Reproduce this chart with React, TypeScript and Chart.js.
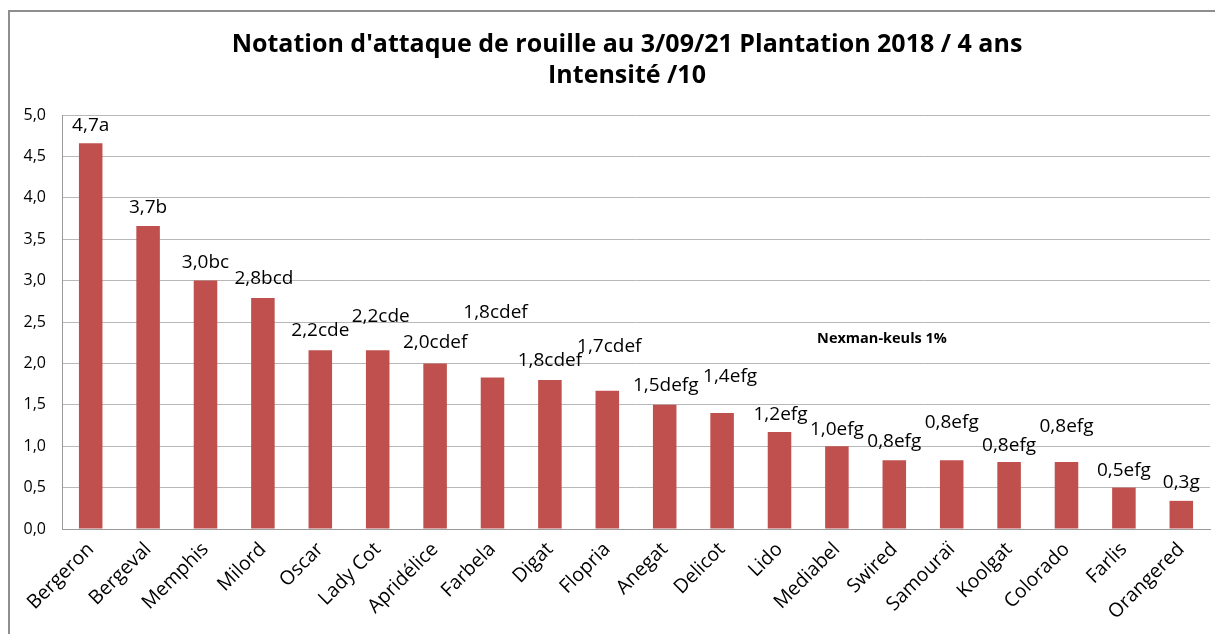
import { useEffect, useRef } from 'react';
import { Chart, registerables } from 'chart.js';

Chart.register(...registerables);

// ---- data ----
const categories = [
  'Bergeron', 'Bergeval', 'Memphis', 'Milord', 'Oscar', 'Lady Cot', 'Apridélice', 'Farbela', 'Digat', 'Flopria',
  'Anegat', 'Delicot', 'Lido', 'Mediabel', 'Swired', 'Samouraï', 'Koolgat', 'Colorado', 'Farlis', 'Orangered',
];
const intensity = [4.66, 3.66, 3.0, 2.79, 2.16, 2.16, 2.0, 1.83, 1.8, 1.67, 1.5, 1.4, 1.17, 1.0, 0.83, 0.83, 0.81, 0.81, 0.5, 0.34];
const groups = ['a', 'b', 'bc', 'bcd', 'cde', 'cde', 'cdef', 'cdef', 'cdef', 'cdef', 'defg', 'efg', 'efg', 'efg', 'efg', 'efg', 'efg', 'efg', 'efg', 'g'];
const yMin = 0;
const yMax = 5;
const yStep = 0.5;
const titleLines = ["Notation d'attaque de rouille au 3/09/21 Plantation 2018 / 4 ans", 'Intensité /10'];
const note = 'Nexman-keuls 1%';

// ---- label placement (layout only) ----
const labelLevel = [4.87, 3.88, 3.22, 3.03, 2.4, 2.57, 2.25, 2.61, 2.03, 2.2, 1.73, 1.84, 1.38, 1.2, 1.05, 1.28, 1.01, 1.24, 0.71, 0.56];
const labelShift = [0, 0, 0, 1, 0, 3, 0, 3, 0, 2, 1, 8, 1, 0, 0, 0, 0, 0, 0, 0];

const fmt = (v: number) => v.toFixed(1).replace('.', ',');
const FONT = "'Open Sans', 'Noto Sans', sans-serif";

export default function App() {
  const ref = useRef<HTMLCanvasElement>(null);

  useEffect(() => {
    const canvas = ref.current;
    if (!canvas) return;

    const decor = {
      id: 'decor',
      beforeDraw(chart: any) {
        const ctx = chart.ctx;
        ctx.save();
        ctx.fillStyle = '#ffffff';
        ctx.fillRect(0, 0, chart.width, chart.height);
        ctx.strokeStyle = '#8e8e8e';
        ctx.lineWidth = 2;
        ctx.beginPath();
        ctx.moveTo(9, chart.height);
        ctx.lineTo(9, 11);
        ctx.lineTo(chart.width, 11);
        ctx.stroke();
        ctx.restore();
      },
      afterDraw(chart: any) {
        const ctx = chart.ctx;
        ctx.save();
        ctx.fillStyle = '#000';
        ctx.textAlign = 'center';
        ctx.textBaseline = 'middle';
        ctx.font = `bold 25px ${FONT}`;
        ctx.fillText(titleLines[0], 627, 45);
        ctx.fillText(titleLines[1], 627, 76);
        ctx.font = `bold 14.5px ${FONT}`;
        ctx.fillText(note, 882, 339);
        ctx.restore();
      },
      afterDatasetsDraw(chart: any) {
        const ctx = chart.ctx;
        const meta = chart.getDatasetMeta(0);
        const ys = chart.scales.y;
        ctx.save();
        ctx.fillStyle = '#000';
        ctx.textAlign = 'center';
        ctx.textBaseline = 'middle';
        ctx.font = `19px ${FONT}`;
        meta.data.forEach((bar: any, i: number) => {
          const text = fmt(intensity[i]) + groups[i];
          ctx.fillText(text, bar.x + labelShift[i], ys.getPixelForValue(labelLevel[i]));
        });
        ctx.restore();
      },
    };

    const chart = new Chart(canvas, {
      type: 'bar',
      data: {
        labels: categories,
        datasets: [
          {
            data: intensity,
            backgroundColor: '#C0504D',
            borderWidth: 0,
            categoryPercentage: 0.41,
            barPercentage: 1,
          },
        ],
      },
      options: {
        responsive: false,
        animation: false,
        devicePixelRatio: 1,
        layout: { padding: { top: 115, left: 0, right: 5, bottom: 0 } },
        plugins: {
          legend: { display: false },
          title: { display: false },
          tooltip: { enabled: false },
        },
        scales: {
          x: {
            afterFit: (s: any) => {
              s.height = 105;
            },
            grid: { display: false, drawTicks: false },
            border: { display: true, color: '#9a9a9a', width: 1 },
            ticks: {
              autoSkip: false,
              minRotation: 45,
              maxRotation: 45,
              padding: 9,
              color: '#000',
              font: { family: FONT, size: 19.5 },
            },
          },
          y: {
            min: yMin,
            max: yMax,
            afterFit: (s: any) => {
              s.width = 62;
            },
            grid: { color: '#b8b8b8', drawTicks: false, lineWidth: 1 },
            border: { display: true, color: '#9a9a9a', width: 1 },
            ticks: {
              stepSize: yStep,
              padding: 16,
              color: '#000',
              font: { family: FONT, size: 16 },
              callback: (v: any) => fmt(Number(v)),
            },
          },
        },
      },
      plugins: [decor],
    });

    return () => chart.destroy();
  }, []);

  return (
    <div style={{ position: 'fixed', left: 0, top: 0, width: 1215, height: 634, background: '#fff' }}>
      <canvas ref={ref} width={1215} height={634} style={{ display: 'block', width: 1215, height: 634 }} />
    </div>
  );
}
